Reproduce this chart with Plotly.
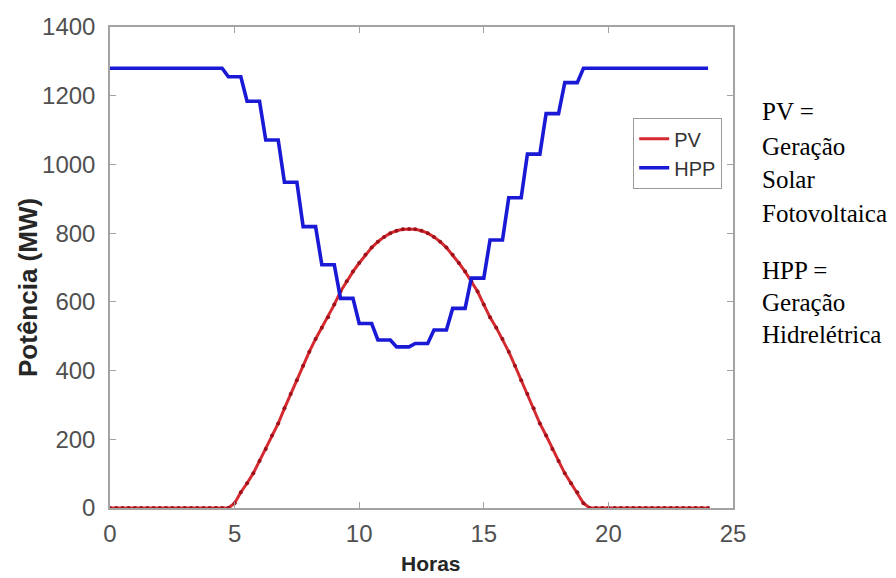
import plotly.graph_objects as go

# Time axis: quarter-hour samples from 0 h to 24 h
hours = [i / 4 for i in range(97)]

# PV generation (MW)
pv = [0] * 20 + [
    14, 46, 72, 101, 137, 172, 211, 246, 290, 332, 372, 414, 455, 492, 525,
    555, 592, 630, 660, 688, 713, 737, 758, 775, 789, 800, 807, 811, 812,
    811, 807, 800, 789, 775, 758, 737, 713, 688, 660, 630, 592, 555, 525,
    492, 455, 414, 372, 332, 290, 246, 211, 172, 137, 101, 72, 46, 14,
] + [0] * 20

# Hydro (HPP) generation (MW)
hpp = [1280] * 19 + [
    1255, 1255, 1255, 1184, 1184, 1184, 1071, 1071, 1071, 948, 948, 948,
    819, 819, 819, 708, 708, 708, 610, 610, 610, 537, 537, 537,
    489, 489, 489, 469, 469, 469, 479, 479, 479, 518, 518, 518,
    581, 581, 581, 669, 669, 669, 780, 780, 780, 903, 903, 903,
    1030, 1030, 1030, 1148, 1148, 1148, 1238, 1238, 1238,
] + [1280] * 21

x_ticks = [0, 5, 10, 15, 20, 25]
y_ticks = [0, 200, 400, 600, 800, 1000, 1200, 1400]

side_lines = ["PV =", "Geração", "Solar", "Fotovoltaica",
              "HPP =", "Geração", "Hidrelétrica"]

W, H = 896, 578
PAGE_OFF = 8  # page body margin in the browser
# plot area in screen pixels
SL, SR, ST, SB = 110, 733, 27, 508
pw, ph = SR - SL, SB - ST

def px_to_paper_x(px):
    return (px - SL) / pw

def px_to_paper_y(py):
    return (SB - py) / ph

fig = go.Figure()
fig.add_trace(go.Scatter(x=hours, y=pv, mode="lines", name="PV",
                         line=dict(color="#d42a30", width=3)))
fig.add_trace(go.Scatter(x=hours, y=pv, mode="markers", showlegend=False,
                         hoverinfo="skip",
                         marker=dict(color="#9e101a", size=4)))
fig.add_trace(go.Scatter(x=hours, y=hpp, mode="lines", name="HPP",
                         line=dict(color="#1a1ad6", width=3.6)))

axis_common = dict(
    showline=True, linecolor="#a3a3a3", linewidth=1.5, mirror="ticks",
    ticks="inside", ticklen=6, tickwidth=1.2, tickcolor="#a3a3a3",
    showgrid=False, zeroline=False,
    tickfont=dict(family="Liberation Sans, Arial, sans-serif", size=24,
                  color="#505050"),
)

fig.update_layout(
    width=W, height=H,
    margin=dict(l=SL - PAGE_OFF, r=W - (SR - PAGE_OFF),
                t=ST - PAGE_OFF, b=H - (SB - PAGE_OFF), autoexpand=False),
    paper_bgcolor="white", plot_bgcolor="white",
    xaxis=dict(range=[0, 25], tickvals=x_ticks, ticklabelstandoff=3,
               **axis_common),
    yaxis=dict(range=[0, 1400], tickvals=y_ticks, ticklabelstandoff=8,
               **axis_common),
    legend=dict(x=px_to_paper_x(722), y=px_to_paper_y(118),
                xanchor="right", yanchor="top",
                bgcolor="white", bordercolor="#9a9a9a", borderwidth=1.2,
                font=dict(family="Liberation Sans, Arial, sans-serif",
                          size=20, color="#333333"),
                entrywidth=98, entrywidthmode="pixels",
                tracegroupgap=0),
    showlegend=True,
)

annotations = [
    dict(text="<b>Horas</b>", xref="paper", yref="paper",
         x=px_to_paper_x(431), y=px_to_paper_y(563),
         xanchor="center", yanchor="middle", showarrow=False,
         font=dict(family="Liberation Sans, Arial, sans-serif", size=21,
                   color="#262626")),
    dict(text="<b>Potência (MW)</b>", xref="paper", yref="paper",
         x=px_to_paper_x(28), y=px_to_paper_y(288), textangle=-90,
         xanchor="center", yanchor="middle", showarrow=False,
         font=dict(family="Liberation Sans, Arial, sans-serif", size=26,
                   color="#262626")),
]

side_y = [111, 146, 180, 214, 270, 302, 334]
for txt, yy in zip(side_lines, side_y):
    annotations.append(dict(
        text=txt, xref="paper", yref="paper",
        x=px_to_paper_x(760), y=px_to_paper_y(yy),
        xanchor="left", yanchor="middle", showarrow=False,
        font=dict(family="Liberation Serif, Times New Roman, serif",
                  size=25, color="black")))

fig.update_layout(annotations=annotations)
fig.write_html("out.html")
